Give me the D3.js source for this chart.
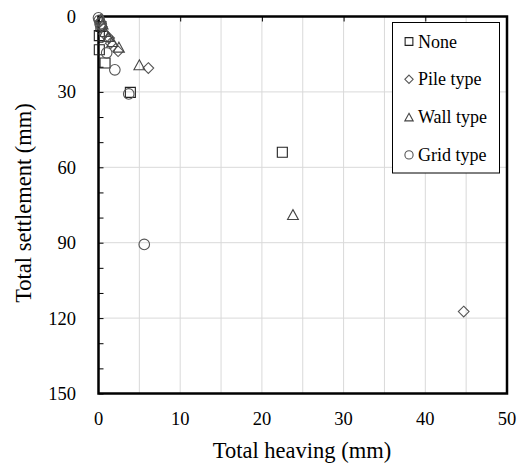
<!DOCTYPE html>
<html>
  <head>
    <meta http-equiv="Content-Type" content="text/html;charset=utf-8"/>
    <script src="https://d3js.org/d3.v7.min.js"></script>
    <style type="text/css">
    body { margin: 0; background: #fff; }
    .grid-line { stroke: #d9d9d9; stroke-width: 1px; }
    .mark { fill: none; stroke-width: 1.1px; }
    </style>
  </head>
  <body>
    <script type="text/javascript">
      // series values (heaving x, settlement y, mm)
      var noneX = [0.1, 0.3, 0.1, 0.8, 3.9, 22.5];
      var noneY = [7.6, 4.0, 13.2, 18.5, 30.2, 54.0];
      var pileX = [0.2, 0.4, 0.7, 1.3, 1.5, 2.4, 6.1, 44.7];
      var pileY = [2.0, 4.0, 7.0, 8.6, 10.6, 13.8, 20.5, 117.4];
      var wallX = [0.3, 0.5, 0.8, 1.2, 1.7, 2.5, 5.0, 23.8];
      var wallY = [1.0, 3.0, 6.0, 8.0, 10.0, 12.2, 19.2, 78.8];
      var gridX = [0.0, 0.1, 0.2, 1.0, 2.0, 3.7, 5.6];
      var gridY = [0.5, 1.5, 3.0, 14.5, 21.2, 30.8, 90.7];
      var seriesNames = ["None", "Pile type", "Wall type", "Grid type"];
      var xTicks = [0, 10, 20, 30, 40, 50];
      var yTicks = [0, 30, 60, 90, 120, 150];

      var width = 519, height = 465;
      var plotLeft = 98.5, plotTop = 16.5, plotW = 408.5, plotH = 377;
      var serif = "'Liberation Serif', 'Times New Roman', 'DejaVu Serif', serif";

      var svg = d3.select("body").append("svg")
        .attr("width", width)
        .attr("height", height)
        .attr("font-family", serif)
        .style("font-family", serif);

      var x = d3.scaleLinear().domain([0, 50]).range([plotLeft, plotLeft + plotW]);
      var y = d3.scaleLinear().domain([0, 150]).range([plotTop, plotTop + plotH]);

      // grid
      svg.append("g").selectAll("line")
        .data(d3.range(5, 50, 5))
        .enter().append("line")
          .classed("grid-line", true)
          .attr("x1", function(d) { return x(d); })
          .attr("x2", function(d) { return x(d); })
          .attr("y1", plotTop).attr("y2", plotTop + plotH);
      svg.append("g").selectAll("line")
        .data(yTicks.slice(1, -1))
        .enter().append("line")
          .classed("grid-line", true)
          .attr("y1", function(d) { return y(d); })
          .attr("y2", function(d) { return y(d); })
          .attr("x1", plotLeft).attr("x2", plotLeft + plotW);

      // inward ticks: x on top edge, y on left edge
      svg.append("g")
        .attr("transform", "translate(0," + plotTop + ")")
        .call(d3.axisBottom(x).tickValues(xTicks).tickSize(5).tickFormat(""))
        .call(function(g) { g.select(".domain").remove(); g.selectAll("line").attr("stroke", "#000"); });
      svg.append("g")
        .attr("transform", "translate(" + plotLeft + ",0)")
        .call(d3.axisRight(y).tickValues(d3.range(0, 151, 10)).tickSize(5).tickFormat(""))
        .call(function(g) { g.select(".domain").remove(); g.selectAll("line").attr("stroke", "#000"); });

      // tick labels
      svg.append("g").selectAll("text")
        .data(xTicks)
        .enter().append("text")
          .attr("x", function(d) { return x(d); })
          .attr("y", 425)
          .attr("text-anchor", "middle")
          .style("font-size", "18.5px")
          .text(function(d) { return d; });
      svg.append("g").selectAll("text")
        .data(yTicks)
        .enter().append("text")
          .attr("x", 76)
          .attr("y", function(d) { return y(d) + 6.5; })
          .attr("text-anchor", "end")
          .style("font-size", "18.5px")
          .text(function(d) { return d; });

      // axis titles
      svg.append("text")
        .attr("x", 302).attr("y", 458)
        .attr("text-anchor", "middle")
        .style("font-size", "22.5px")
        .text("Total heaving (mm)");
      svg.append("text")
        .attr("transform", "translate(31,203) rotate(-90)")
        .attr("text-anchor", "middle")
        .style("font-size", "22.5px")
        .text("Total settlement (mm)");

      // frame
      svg.append("rect")
        .attr("x", plotLeft).attr("y", plotTop)
        .attr("width", plotW).attr("height", plotH)
        .attr("fill", "none").attr("stroke", "#000").attr("stroke-width", 2.5);

      var shapes = [d3.symbolSquare, d3.symbolDiamond, d3.symbolTriangle, d3.symbolCircle];
      var sizes = [100, 62, 62, 88];
      var strokes = ["#222", "#555", "#444", "#555"];
      var xs = [noneX, pileX, wallX, gridX];
      var ys = [noneY, pileY, wallY, gridY];

      function shapePath(i, scale) {
        var s = sizes[i] * scale;
        if (shapes[i] === d3.symbolDiamond) {
          var r = Math.sqrt(s) * 0.68;
          return "M0," + (-r) + "L" + r + ",0L0," + r + "L" + (-r) + ",0Z";
        }
        if (shapes[i] === d3.symbolTriangle) {
          var h = Math.sqrt(s) * 1.25, w = h * 1.1;
          return "M0," + (-h / 2) + "L" + (w / 2) + "," + (h / 2) + "L" + (-w / 2) + "," + (h / 2) + "Z";
        }
        return d3.symbol().type(shapes[i]).size(s)();
      }

      xs.forEach(function(xv, i) {
        svg.append("g").selectAll("path")
          .data(d3.range(xv.length))
          .enter().append("path")
            .classed("mark", true)
            .attr("d", shapePath(i, 1))
            .attr("stroke", strokes[i])
            .attr("transform", function(j) { return "translate(" + x(xv[j]) + "," + y(ys[i][j]) + ")"; });
      });

      // legend
      var lg = svg.append("g");
      lg.append("rect")
        .attr("x", 392.5).attr("y", 22.5)
        .attr("width", 107).attr("height", 150.5)
        .attr("fill", "#fff").attr("stroke", "#000").attr("stroke-width", 1);
      seriesNames.forEach(function(name, i) {
        var cy = 41.5 + i * 37.8;
        lg.append("path")
          .classed("mark", true)
          .attr("d", shapePath(i, 0.6))
          .attr("stroke", strokes[i])
          .attr("transform", "translate(409," + cy + ")");
        lg.append("text")
          .attr("x", 418).attr("y", cy + 6)
          .style("font-size", "18px")
          .text(name);
      });
    </script>
  </body>
</html>
